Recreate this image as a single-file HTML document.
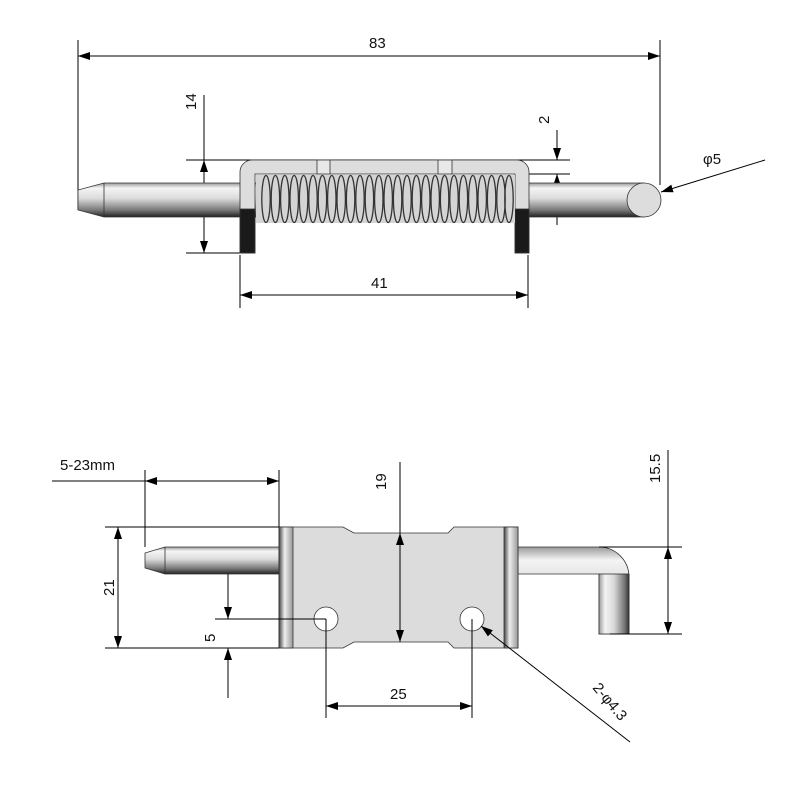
<!DOCTYPE html><html><head><style>html,body{margin:0;background:#fff}svg{display:block}text{font-family:"Liberation Sans",sans-serif;font-size:15px;fill:#111}</style></head><body>
<svg width="788" height="800" viewBox="0 0 788 800" xmlns="http://www.w3.org/2000/svg">
<defs>
<linearGradient id="pin" x1="0" y1="0" x2="0" y2="1"><stop offset="0" stop-color="#9a9a9a"/><stop offset=".15" stop-color="#f4f4f4"/><stop offset=".45" stop-color="#dcdcdc"/><stop offset=".8" stop-color="#777"/><stop offset="1" stop-color="#222"/></linearGradient>
<linearGradient id="pinv" x1="0" y1="0" x2="1" y2="0"><stop offset="0" stop-color="#999"/><stop offset=".2" stop-color="#f4f4f4"/><stop offset=".5" stop-color="#d8d8d8"/><stop offset=".85" stop-color="#777"/><stop offset="1" stop-color="#333"/></linearGradient>
<linearGradient id="side" x1="0" y1="0" x2="1" y2="0"><stop offset="0" stop-color="#444"/><stop offset=".4" stop-color="#eee"/><stop offset="1" stop-color="#999"/></linearGradient>
<marker id="a" viewBox="0 0 12 8" refX="12" refY="4" markerWidth="12" markerHeight="8" orient="auto-start-reverse" markerUnits="userSpaceOnUse"><path d="M0,0L12,4L0,8z" fill="#000"/></marker>
<ellipse id="coil" cx="0" cy="199" rx="4.2" ry="23.5" fill="none" stroke="#333" stroke-width="1.3"/>
</defs>
<g stroke="#000" stroke-width="1" fill="none">
<line x1="78" y1="40" x2="78" y2="210"/><line x1="660" y1="40" x2="660" y2="185"/>
<line x1="78" y1="56" x2="660" y2="56" marker-start="url(#a)" marker-end="url(#a)"/>
<line x1="186" y1="160" x2="570" y2="160"/><line x1="186" y1="253" x2="255" y2="253"/>
<line x1="204" y1="95" x2="204" y2="160"/>
<line x1="204" y1="188" x2="204" y2="160" marker-end="url(#a)"/><line x1="204" y1="225" x2="204" y2="253" marker-end="url(#a)"/>
<line x1="204" y1="188" x2="204" y2="225"/>
<line x1="520" y1="174" x2="570" y2="174"/>
<line x1="557" y1="130" x2="557" y2="160" marker-end="url(#a)"/><line x1="557" y1="205" x2="557" y2="174" marker-end="url(#a)"/><line x1="557" y1="205" x2="557" y2="225"/>
<line x1="765" y1="160" x2="661" y2="192" marker-end="url(#a)"/>
<line x1="240" y1="255" x2="240" y2="308"/><line x1="528" y1="255" x2="528" y2="308"/>
<line x1="240" y1="295" x2="528" y2="295" marker-start="url(#a)" marker-end="url(#a)"/>
</g>
<text x="369" y="48">83</text><text x="371" y="288">41</text>
<text transform="translate(196,110) rotate(-90)">14</text>
<text transform="translate(549,124) rotate(-90)">2</text>
<text x="703" y="164">φ5</text>
<g stroke="#333" stroke-width=".8">
<path d="M104,183 L644,183 L644,217 L104,217 L78,210 L78,190 Z" fill="url(#pin)"/>
<line x1="104" y1="183" x2="104" y2="217"/>
<circle cx="644" cy="200" r="17" fill="#ddd"/>
<path d="M240,253V172a12,12 0 0 1 12,-12H517a12,12 0 0 1 12,12V253H515V174H255V253Z" fill="#ddd"/>
<rect x="317" y="160" width="13" height="14" fill="#e8e8e8"/><rect x="438" y="160" width="14" height="14" fill="#e8e8e8"/>
<rect x="240" y="209" width="15" height="44" fill="#1a1a1a"/><rect x="515" y="209" width="14" height="44" fill="#1a1a1a"/>
</g>
<rect x="256" y="175" width="259" height="48" fill="#d4d4d4"/>
<g>
<use href="#coil" x="266"/><use href="#coil" x="275.4"/><use href="#coil" x="284.8"/><use href="#coil" x="294.2"/><use href="#coil" x="303.6"/><use href="#coil" x="313"/><use href="#coil" x="322.4"/><use href="#coil" x="331.8"/><use href="#coil" x="341.2"/><use href="#coil" x="350.6"/><use href="#coil" x="360"/><use href="#coil" x="369.4"/><use href="#coil" x="378.8"/><use href="#coil" x="388.2"/><use href="#coil" x="397.6"/><use href="#coil" x="407"/><use href="#coil" x="416.4"/><use href="#coil" x="425.8"/><use href="#coil" x="435.2"/><use href="#coil" x="444.6"/><use href="#coil" x="454"/><use href="#coil" x="463.4"/><use href="#coil" x="472.8"/><use href="#coil" x="482.2"/><use href="#coil" x="491.6"/><use href="#coil" x="501"/><use href="#coil" x="509"/>
</g>
<g stroke="#333" stroke-width=".8">
<path d="M165,547H279V574H165L145,568V553Z" fill="url(#pin)"/><line x1="165" y1="547" x2="165" y2="574"/>
<path d="M518,547H599a30,30 0 0 1 30,30V634H599V574H518Z" fill="url(#pin)"/>
<rect x="599" y="574" width="30" height="60" fill="url(#pinv)"/>
<path d="M279,527H343L354,533H448L454,527H518V648H454L448,642H354L343,648H279Z" fill="#dcdcdc"/>
<rect x="279" y="527" width="14" height="121" fill="url(#side)"/><rect x="504" y="527" width="14" height="121" fill="url(#side)"/>
<circle cx="326" cy="619" r="12" fill="#fff"/><circle cx="472" cy="619" r="12" fill="#fff"/>
</g>
<g stroke="#000" stroke-width="1" fill="none">
<line x1="52" y1="481" x2="145" y2="481"/><line x1="145" y1="470" x2="145" y2="547"/><line x1="279" y1="470" x2="279" y2="527"/>
<line x1="145" y1="481" x2="279" y2="481" marker-start="url(#a)" marker-end="url(#a)"/>
<line x1="105" y1="527" x2="279" y2="527"/><line x1="105" y1="648" x2="279" y2="648"/>
<line x1="118" y1="527" x2="118" y2="648" marker-start="url(#a)" marker-end="url(#a)"/>
<line x1="215" y1="619" x2="326" y2="619"/><line x1="326" y1="619" x2="326" y2="718"/><line x1="472" y1="619" x2="472" y2="718"/>
<line x1="228" y1="574" x2="228" y2="619" marker-end="url(#a)"/><line x1="228" y1="698" x2="228" y2="648" marker-end="url(#a)"/>
<line x1="326" y1="706" x2="472" y2="706" marker-start="url(#a)" marker-end="url(#a)"/>
<line x1="400" y1="462" x2="400" y2="533"/>
<line x1="400" y1="533" x2="400" y2="642" marker-start="url(#a)" marker-end="url(#a)"/>
<line x1="599" y1="547" x2="682" y2="547"/><line x1="610" y1="634" x2="682" y2="634"/><line x1="668" y1="450" x2="668" y2="547"/>
<line x1="668" y1="547" x2="668" y2="634" marker-start="url(#a)" marker-end="url(#a)"/>
<line x1="630" y1="742" x2="481" y2="626" marker-end="url(#a)"/>
</g>
<text x="60" y="470">5-23mm</text>
<text transform="translate(114,596) rotate(-90)">21</text>
<text transform="translate(215,642) rotate(-90)">5</text>
<text x="390" y="699">25</text>
<text transform="translate(386,490) rotate(-90)">19</text>
<text transform="translate(660,483) rotate(-90)">15.5</text>
<text transform="translate(592,688) rotate(50)">2-φ4.3</text>
</svg>
</body></html>
